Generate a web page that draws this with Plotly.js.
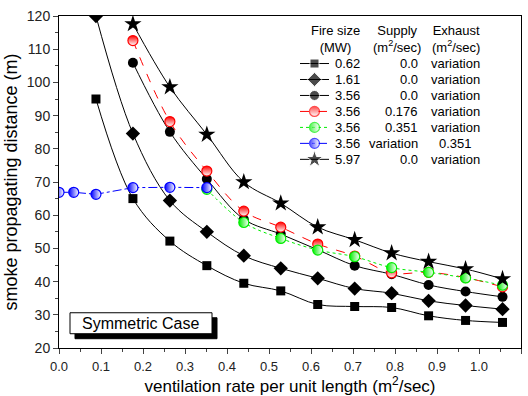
<!DOCTYPE html>
<html>
<head>
<meta charset="utf-8">
<script src="https://cdn.plot.ly/plotly-3.0.1.min.js"></script>
<style>html,body{margin:0;padding:0;background:#fff;}#chart{width:528px;height:396px;}</style>
</head>
<body>
<div id="chart"></div>
<script>
// ---- data ----
var xMain = [0.088, 0.176, 0.264, 0.352, 0.44, 0.528, 0.616, 0.704, 0.792, 0.88, 0.968, 1.056];
var xFrom176 = [0.176, 0.264, 0.352, 0.44, 0.528, 0.616, 0.704, 0.792, 0.88, 0.968, 1.056];
var xFrom352 = [0.352, 0.44, 0.528, 0.616, 0.704, 0.792, 0.88, 0.968, 1.056];
var xBlue = [0.0, 0.035, 0.088, 0.176, 0.264, 0.352];

var ySq062 = [95.0, 65.0, 52.2, 44.8, 39.5, 37.2, 33.1, 32.5, 32.2, 29.7, 28.3, 27.7];
var yDi161 = [120.0, 84.6, 64.4, 55.0, 47.8, 44.0, 41.0, 37.9, 36.5, 34.2, 32.8, 31.7];
var yCi356 = [105.9, 85.1, 70.9, 58.8, 54.3, 49.6, 44.8, 42.2, 39.0, 37.0, 35.4];
var yRed = [112.6, 88.2, 73.3, 61.2, 56.4, 51.3, 47.7, 42.6, 42.8, 41.2, 38.4];
var yGreen = [67.8, 57.8, 53.0, 49.5, 47.5, 44.2, 42.8, 41.1, 38.9];
var yBlue = [66.9, 66.9, 66.3, 68.3, 68.4, 68.3];
var yStar = [117.6, 98.6, 84.3, 70.0, 63.6, 56.4, 52.6, 48.6, 46.0, 43.8, 40.8];

var fireSizes = ['0.62', '1.61', '3.56', '3.56', '3.56', '3.56', '5.97'];
var supplyCol = ['0.0', '0.0', '0.0', '0.176', '0.351', 'variation', '0.0'];
var exhaustCol = ['variation', 'variation', 'variation', 'variation', 'variation', '0.351', 'variation'];
var legendKeyX = [0, 1, 2];

var FONT = 'Liberation Sans, Arial, sans-serif';

// ---- styles ----
var styles = [
  {line: {color: '#000', width: 1, shape: 'spline', smoothing: 1}, marker: {symbol: 'square', size: 9, color: '#000'}},
  {line: {color: '#000', width: 1, shape: 'spline', smoothing: 1}, marker: {symbol: 'diamond', size: 11, color: '#000'}},
  {line: {color: '#000', width: 1, shape: 'spline', smoothing: 1}, marker: {symbol: 'circle', size: 10, color: '#000'}},
  {line: {color: '#ff0000', width: 1, dash: 'dash', shape: 'spline', smoothing: 1},
   marker: {symbol: 'circle', size: 10, color: '#ff0000', gradient: {type: 'vertical', color: '#ffffff'}, line: {color: '#ff0000', width: 1.2}}},
  {line: {color: '#00ee00', width: 1, dash: 'dot', shape: 'spline', smoothing: 1},
   marker: {symbol: 'circle', size: 10, color: '#00ee00', gradient: {type: 'horizontal', color: '#ffffff'}, line: {color: '#00ee00', width: 1.2}}},
  {line: {color: '#0000ff', width: 1, dash: 'dashdot', shape: 'linear'},
   marker: {symbol: 'circle', size: 10, color: '#0000ff', gradient: {type: 'horizontal', color: '#ffffff'}, line: {color: '#0000ff', width: 1.2}}},
  {line: {color: '#000', width: 1, shape: 'spline', smoothing: 1}, marker: {symbol: 'star', size: 13, color: '#000'}}
];
var seriesX = [xMain, xMain, xFrom176, xFrom176, xFrom352, xBlue, xFrom176];
var seriesY = [ySq062, yDi161, yCi356, yRed, yGreen, yBlue, yStar];

var traces = [];
for (var s = 0; s < seriesX.length; s++) {
  traces.push({x: seriesX[s], y: seriesY[s], type: 'scatter', mode: 'lines+markers', showlegend: false,
    name: fireSizes[s], line: styles[s].line, marker: styles[s].marker, xaxis: 'x', yaxis: 'y'});
}
// legend keys drawn on a hidden helper axis pair
for (var k = 0; k < seriesX.length; k++) {
  var m = JSON.parse(JSON.stringify(styles[k].marker));
  m.size = [0, m.size, 0];
  var ln = JSON.parse(JSON.stringify(styles[k].line));
  ln.shape = 'linear';
  traces.push({x: legendKeyX, y: legendKeyX.map(function () { return k; }), type: 'scatter', mode: 'lines+markers',
    showlegend: false, hoverinfo: 'skip', cliponaxis: false, line: ln, marker: m, xaxis: 'x2', yaxis: 'y2'});
}

var L = 59, R = 521, T = 15.7, B = 348.3;
function px2x(p) { return (p - L) / (R - L); }
function py2y(p) { return (B - p) / (B - T); }

var annotations = [];
var tf = {family: FONT, size: 13, color: '#000'};
for (var i = 0; i < supplyCol.length; i++) {
  annotations.push({xref: 'paper', yref: 'y2', x: px2x(333), y: i, xanchor: 'left', yanchor: 'middle',
    showarrow: false, text: fireSizes[i], font: tf});
  annotations.push({xref: 'paper', yref: 'y2', x: px2x(420), y: i, xanchor: 'right', yanchor: 'middle',
    showarrow: false, text: supplyCol[i], font: tf});
  annotations.push({xref: 'paper', yref: 'y2', x: px2x(455), y: i, xanchor: 'center', yanchor: 'middle',
    showarrow: false, text: exhaustCol[i], font: tf});
}
var headers = [['Fire size<br>(MW)', 335], ['Supply<br>(m<sup>2</sup>/sec)', 397], ['Exhaust<br>(m<sup>2</sup>/sec)', 456]];
headers.forEach(function (h) {
  annotations.push({xref: 'paper', yref: 'paper', x: px2x(h[1]), y: py2y(39), xanchor: 'center', yanchor: 'middle',
    showarrow: false, text: h[0], align: 'center', font: tf});
});
annotations.push({xref: 'paper', yref: 'paper', x: px2x(140.5), y: py2y(323.8), xanchor: 'center', yanchor: 'middle',
  showarrow: false, text: 'Symmetric Case', font: {family: FONT, size: 16, color: '#000'}});

var shapes = [
  {type: 'rect', xref: 'paper', yref: 'paper', x0: px2x(75), x1: px2x(217), y0: py2y(339), y1: py2y(318),
   fillcolor: '#000', line: {color: '#000', width: 1}, layer: 'above'},
  {type: 'rect', xref: 'paper', yref: 'paper', x0: px2x(70), x1: px2x(212), y0: py2y(334), y1: py2y(313),
   fillcolor: '#fff', line: {color: '#000', width: 1}, layer: 'above'}
];

var layout = {
  width: 528, height: 396,
  margin: {l: 59, r: 7, t: 15.7, b: 47.7},
  paper_bgcolor: '#fff', plot_bgcolor: '#fff',
  font: {family: FONT, color: '#000'},
  showlegend: false,
  xaxis: {range: [0, 1.1], dtick: 0.1, tick0: 0, tickformat: '.1f', ticks: 'outside', ticklen: 5, tickwidth: 1,
    showline: true, linecolor: '#000', linewidth: 1, mirror: true, showgrid: false, zeroline: false,
    minor: {dtick: 0.05, ticks: 'outside', ticklen: 3, tickwidth: 1, showgrid: false},
    ticklabelstandoff: 1,
    tickfont: {family: FONT, size: 13, color: '#222'},
    title: {text: 'ventilation rate per unit length (m<sup>2</sup>/sec)', font: {family: FONT, size: 17, color: '#000'}, standoff: 9}},
  yaxis: {range: [20, 120], dtick: 10, ticks: 'outside', ticklen: 5, tickwidth: 1,
    showline: true, linecolor: '#000', linewidth: 1, mirror: true, showgrid: false, zeroline: false,
    minor: {dtick: 5, ticks: 'outside', ticklen: 3, tickwidth: 1, showgrid: false},
    tickfont: {family: FONT, size: 14, color: '#222'},
    title: {text: 'smoke propagating distance (m)', font: {family: FONT, size: 18, color: '#000'}, standoff: 4}},
  xaxis2: {domain: [px2x(300), px2x(329)], range: [0, 2], visible: false, anchor: 'y2', fixedrange: true},
  yaxis2: {domain: [py2y(167.3), py2y(55.3)], range: [6.5, -0.5], visible: false, anchor: 'x2', fixedrange: true},
  annotations: annotations,
  shapes: shapes
};

Plotly.newPlot('chart', traces, layout, {displayModeBar: false, staticPlot: true});
</script>
</body>
</html>
